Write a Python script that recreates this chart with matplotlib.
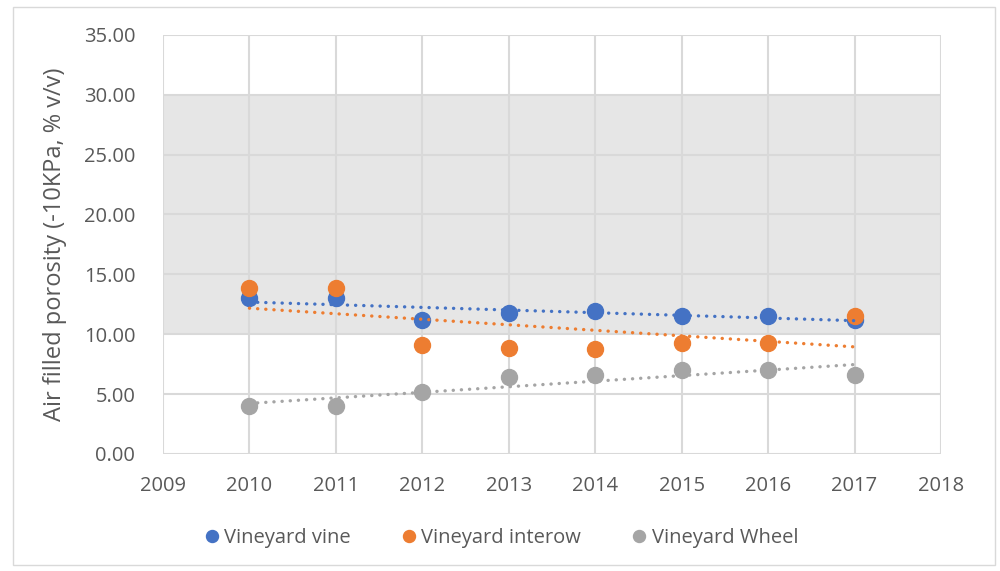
import numpy as np
import matplotlib.pyplot as plt
from matplotlib.patches import Rectangle

years = [2010, 2011, 2012, 2013, 2014, 2015, 2016, 2017]
vine = [13.0, 13.0, 11.2, 11.8, 11.95, 11.55, 11.55, 11.2]
interow = [13.85, 13.85, 9.1, 8.85, 8.75, 9.25, 9.25, 11.55]
wheel = [4.0, 4.0, 5.15, 6.4, 6.6, 7.0, 7.0, 6.6]

series_names = ["Vineyard vine", "Vineyard interow", "Vineyard Wheel"]
colors = ["#4472C4", "#ED7D31", "#A5A5A5"]
band = (10, 30)

plt.rcParams['font.family'] = ['Open Sans', 'DejaVu Sans']

fig = plt.figure(figsize=(10, 5.71), dpi=100)
ax = fig.add_axes([0.163, 0.205, 0.778, 0.734])

# shaded band
ax.axhspan(band[0], band[1], color="#e6e6e6", zorder=0, lw=0)

handles = []
for vals, name, c in zip([vine, interow, wheel], series_names, colors):
    h, = ax.plot(years, vals, 'o', ms=11.5, color=c, label=name, zorder=3)
    handles.append(h)

# linear trendlines
for vals, c in zip([vine, interow, wheel], colors):
    k, b = np.polyfit(years, vals, 1)
    xs = np.array([years[0], years[-1]])
    ax.plot(xs, k * xs + b, color=c, lw=2.4, linestyle=(0, (0.05, 2.4)),
            dash_capstyle='round', zorder=4)

ax.set_xlim(2009, 2018)
ax.set_ylim(0, 35)
ax.set_xticks(range(2009, 2019))
ax.set_yticks(np.arange(0, 36, 5))
ax.set_yticklabels([f"{v:.2f}" for v in np.arange(0, 36, 5)])
ax.grid(True, color="#d9d9d9", lw=1.5, zorder=1)
ax.set_axisbelow(True)
for s in ax.spines.values():
    s.set_visible(False)
ax.tick_params(length=0, labelsize=14.5, colors="#595959")
ax.tick_params(axis='y', pad=20)
ax.tick_params(axis='x', pad=16)
ax.set_ylabel("Air filled porosity (-10KPa, % v/v)", fontsize=17,
              color="#595959", labelpad=12)

fig.legend(handles=handles, loc='center', bbox_to_anchor=(0.5, 0.058), ncol=3,
           frameon=False, fontsize=14.5, labelcolor="#595959", markerscale=0.75,
           handletextpad=0.1, columnspacing=2.4, handlelength=1.0)

fig.patches.append(Rectangle((0.013, 0.01), 0.982, 0.978, transform=fig.transFigure,
                             fill=False, edgecolor="#d9d9d9", lw=1))

fig.savefig("out.png", dpi=100)
